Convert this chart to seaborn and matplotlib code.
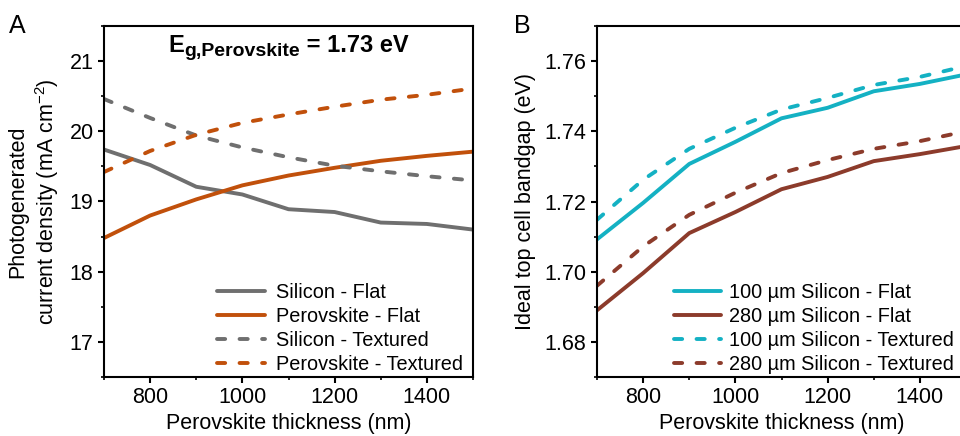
import numpy as np
import pandas as pd
import matplotlib
matplotlib.use("Agg")
import matplotlib.pyplot as plt
import seaborn as sns
from matplotlib.ticker import MultipleLocator, FormatStrFormatter

sns.set_style("ticks")
plt.rcParams['font.family'] = ['Liberation Sans', 'DejaVu Sans']
plt.rcParams['mathtext.fontset'] = 'custom'
plt.rcParams['mathtext.rm'] = 'Liberation Sans'
plt.rcParams['mathtext.bf'] = 'Liberation Sans:bold'
for k in ['text.color', 'axes.labelcolor', 'xtick.color', 'ytick.color']:
    plt.rcParams[k] = 'black'

# Perovskite thickness (nm)
thickness = [700, 800, 900, 1000, 1100, 1200, 1300, 1400, 1500]

# Panel A: photogenerated current density (mA cm-2)
si_flat = [19.74, 19.52, 19.21, 19.10, 18.89, 18.85, 18.70, 18.68, 18.60]
pero_flat = [18.48, 18.80, 19.03, 19.23, 19.37, 19.48, 19.58, 19.65, 19.71]
si_text = [20.46, 20.19, 19.94, 19.77, 19.63, 19.51, 19.43, 19.36, 19.30]
pero_text = [19.42, 19.72, 19.95, 20.12, 20.24, 20.35, 20.45, 20.52, 20.61]

# Panel B: ideal top cell bandgap (eV)
si100_flat = [1.7092, 1.7196, 1.7307, 1.7370, 1.7437, 1.7467, 1.7514, 1.7535, 1.7562]
si280_flat = [1.6890, 1.6996, 1.7110, 1.7170, 1.7235, 1.7270, 1.7315, 1.7335, 1.7358]
si100_text = [1.7148, 1.7262, 1.7350, 1.7410, 1.7462, 1.7495, 1.7532, 1.7555, 1.7586]
si280_text = [1.6960, 1.7072, 1.7162, 1.7225, 1.7281, 1.7318, 1.7350, 1.7372, 1.7400]

gray = "#6f6f6f"
orange = "#c1500b"
cyan = "#14b1c3"
brown = "#8c3b2b"

fig = plt.figure(figsize=(9.6, 4.36), dpi=100)
axA = fig.add_axes([104/960, 59/436, 369/960, 351/436])
axB = fig.add_axes([597/960, 59/436, 369/960, 351/436])

lw = 2.8
dash = (2.1, 3.7)

def draw(ax, y, color, label, dashed):
    df = pd.DataFrame({"x": thickness, "y": y})
    sns.lineplot(data=df, x="x", y="y", ax=ax, color=color, lw=lw, label=label)
    l = ax.get_lines()[-1]
    if dashed:
        l.set_dashes(dash)
        l.set_dash_capstyle('round')

draw(axA, si_flat, gray, "Silicon - Flat", False)
draw(axA, pero_flat, orange, "Perovskite - Flat", False)
draw(axA, si_text, gray, "Silicon - Textured", True)
draw(axA, pero_text, orange, "Perovskite - Textured", True)

draw(axB, si100_flat, cyan, "100 µm Silicon - Flat", False)
draw(axB, si280_flat, brown, "280 µm Silicon - Flat", False)
draw(axB, si100_text, cyan, "100 µm Silicon - Textured", True)
draw(axB, si280_text, brown, "280 µm Silicon - Textured", True)

fs = 15.5
for ax in (axA, axB):
    ax.set_xlim(700, 1500)
    ax.xaxis.set_major_locator(MultipleLocator(200))
    ax.xaxis.set_minor_locator(MultipleLocator(100))
    ax.set_xlabel("Perovskite thickness (nm)", fontsize=fs, labelpad=3)
    ax.tick_params(which='major', direction='out', length=4.5, width=1.5, labelsize=fs, pad=3)
    ax.tick_params(which='minor', direction='out', length=2.5, width=1.2)
    for s in ax.spines.values():
        s.set_visible(True)
        s.set_linewidth(1.5)
        s.set_color("black")

axA.legend(loc='lower right', bbox_to_anchor=(1 - 7/369, 0), frameon=False,
           fontsize=14.3, handlelength=2.4, handletextpad=0.55, labelspacing=0.25,
           borderaxespad=0.0, borderpad=0.15)
axB.legend(loc='lower right', bbox_to_anchor=(1 - 9/369, 0), frameon=False,
           fontsize=14.3, handlelength=2.4, handletextpad=0.4, labelspacing=0.25,
           borderaxespad=0.0, borderpad=0.15)

axA.set_ylim(16.5, 21.5)
axA.yaxis.set_major_locator(MultipleLocator(1))
axA.yaxis.set_minor_locator(MultipleLocator(0.5))
axA.set_ylabel("Photogenerated\ncurrent density (mA cm$^{-2}$)", fontsize=fs,
               linespacing=1.25, labelpad=6)

# bold title with large subscript
base_y = 1 - 52/436
t1 = fig.text(168/960, base_y, "E", fontsize=17, fontweight='bold', va='baseline')
t2 = axA.annotate("g,Perovskite", xy=(1, base_y), xycoords=(t1, 'figure fraction'),
                  xytext=(0.5, -3), textcoords='offset points',
                  fontsize=14, fontweight='bold', va='baseline', ha='left')
axA.annotate(" = 1.73 eV", xy=(1, base_y), xycoords=(t2, 'figure fraction'),
             fontsize=17, fontweight='bold', va='baseline', ha='left')

axB.set_ylim(1.67, 1.77)
axB.yaxis.set_major_locator(MultipleLocator(0.02))
axB.yaxis.set_minor_locator(MultipleLocator(0.01))
axB.yaxis.set_major_formatter(FormatStrFormatter('%.2f'))
axB.set_ylabel("Ideal top cell bandgap (eV)", fontsize=fs, labelpad=6)

fig.text(9/960, 1 - 33/436, "A", fontsize=18, va='baseline', ha='left')
fig.text(514/960, 1 - 33/436, "B", fontsize=18, va='baseline', ha='left')

fig.savefig("out.png", dpi=100)
